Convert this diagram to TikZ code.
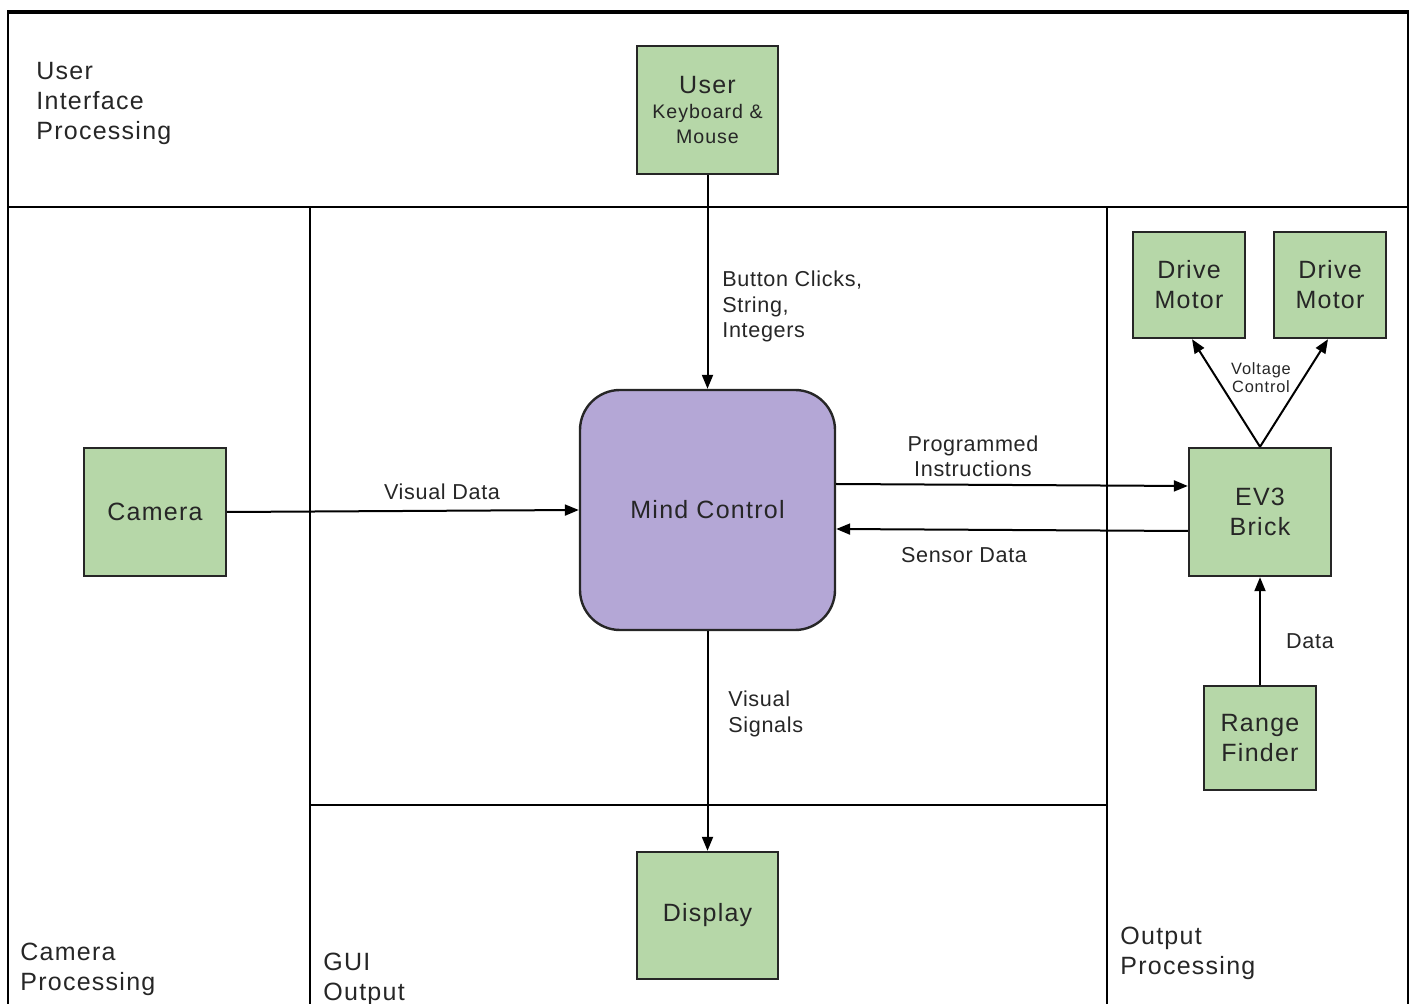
\documentclass[tikz,border=0pt]{standalone}
\usepackage{fontspec}
\setmainfont{Liberation Sans}
\newfontfamily\capfont{Liberation Sans}[LetterSpace=5]
\newfontfamily\lblfont{Liberation Sans}[LetterSpace=3]
\usetikzlibrary{arrows.meta}
\definecolor{boxgreen}{HTML}{B6D7A8}
\definecolor{boxpurple}{HTML}{B4A7D6}
\definecolor{ink}{HTML}{262626}
\begin{document}
\begin{tikzpicture}[x=0.5pt,y=-0.5pt,
  frame/.style={line width=1pt,draw=black},
  block/.style={draw=ink,line width=1.2pt,fill=boxgreen,align=center,inner sep=0pt,
    text=ink,font=\capfont\fontsize{12.5}{15}\selectfont},
  region/.style={anchor=base west,align=left,inner sep=0pt,text=ink,
    font=\capfont\fontsize{12.5}{15}\selectfont},
  elabel/.style={anchor=base,align=center,inner sep=0pt,text=ink,
    font=\lblfont\fontsize{10.8}{12.9}\selectfont},
  link/.style={draw=black,line width=1pt,-{Triangle[length=7pt,width=5.5pt]}}]
\useasboundingbox (0,0) rectangle (1412,1004);
\begin{scope}
\clip (0,0) rectangle (1412,1004);
% swim-lane frame
\draw[frame] (8,1030) -- (8,12) -- (1408,12) -- (1408,1030);
\draw[line width=2pt] (7,12) -- (1409,12);
\draw[frame] (8,207) -- (1408,207);
\draw[frame] (310,207) -- (310,1030);
\draw[frame] (1107,207) -- (1107,1030);
\draw[frame] (310,805) -- (1107,805);
\end{scope}

% lane captions (positioned by the baseline of their last line)
\node[region] (lui) at (36,140) {User\\Interface\\Processing};
\node[region] (lcam) at (20,990) {Camera\\Processing};
\node[region] (lgui) at (323,1000) {GUI\\Output};
\node[region] (lout) at (1120,974) {Output\\Processing};

% blocks
\node[block,minimum width=70.5pt,minimum height=64pt,
  font=\capfont\fontsize{12.5}{12.5}\selectfont] (user) at (707.5,110)
  {User\\\fontsize{9.8}{12.5}\selectfont Keyboard \&\\\fontsize{9.8}{12.5}\selectfont Mouse};
\node[draw=ink,line width=1.2pt,fill=boxpurple,rounded corners=20pt,
  minimum width=127.5pt,minimum height=120pt,text=ink,
  font=\capfont\fontsize{12.5}{15}\selectfont] (mind) at (707.5,510) {Mind Control};
\node[block,minimum width=71pt,minimum height=64pt] (cam) at (155,512) {Camera};
\node[block,minimum width=70.5pt,minimum height=63.5pt] (disp) at (707.5,915.5) {Display};
\node[block,minimum width=71pt,minimum height=64pt] (ev3) at (1260,512) {EV3\\Brick};
\node[block,minimum width=56pt,minimum height=53pt] (m1) at (1189,285) {Drive\\Motor};
\node[block,minimum width=56pt,minimum height=53pt] (m2) at (1330,285) {Drive\\Motor};
\node[block,minimum width=56pt,minimum height=52pt] (rf) at (1260,738) {Range\\Finder};

% connectors
\draw[link] (user.south) -- (mind.north);
\draw[link] (cam.east) -- (mind.west);
\draw[link] ([yshift=13pt]mind.east) -- ([yshift=13pt]ev3.west);
\draw[link] ([yshift=-9.5pt]ev3.west) -- ([yshift=-9.5pt]mind.east);
\draw[link] (mind.south) -- (disp.north);
\draw[link] (ev3.north) -- ([xshift=1.5pt]m1.south);
\draw[link] (ev3.north) -- ([xshift=-1pt]m2.south);
\draw[link] (rf.north) -- (ev3.south);

% connector labels (positioned by the baseline of their last line)
\node[elabel,anchor=base west,align=left] (tbtn) at (722,338) {Button Clicks,\\String,\\Integers};
\node[elabel] (tvis) at (442,500) {Visual Data};
\node[elabel] (tprog) at (973,477) {Programmed\\Instructions};
\node[elabel] (tsens) at (964,563) {Sensor Data};
\node[elabel,anchor=base west,align=left] (tsig) at (728,732) {Visual\\Signals};
\node[elabel,font=\capfont\fontsize{8.2}{9}\selectfont] (tvolt) at (1261,393) {Voltage\\Control};
\node[elabel] (tdata) at (1310,648) {Data};
\end{tikzpicture}
\end{document}
